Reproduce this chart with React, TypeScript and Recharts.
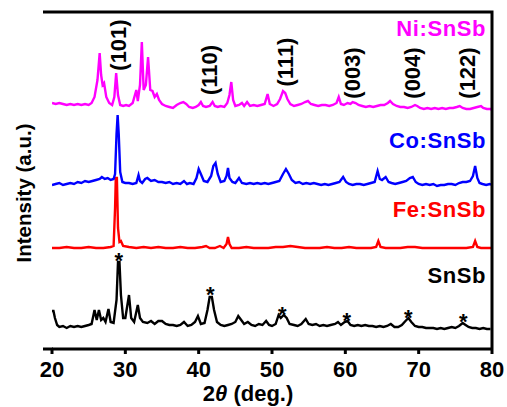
import React from 'react';
import { LineChart, Line, XAxis, YAxis, ReferenceDot } from 'recharts';

const FONT = '"Liberation Sans", Arial, sans-serif';

// 2theta ticks
const xTicks = [20, 30, 40, 50, 60, 70, 80];

// stacking offsets for each pattern (plot units)
const offsets = { SnSb: 22, Fe: 101, Co: 165, Ni: 244 };

// [2theta, intensity above own baseline]
const snsb: [number, number][] = [
  [20.0, 16], [20.2, 16], [20.4, 9], [20.7, 2], [21.0, 0], [21.5, 1], [22.0, -1], [22.5, 1], [23.0, 0],
  [23.5, 1], [24.0, 0], [24.5, 1], [25.0, 2], [25.4, 3], [25.8, 17], [26.1, 7], [26.4, 17], [26.7, 7],
  [27.0, 9], [27.3, 5], [27.7, 18], [28.0, 5], [28.4, 4], [28.8, 27], [29.0, 65], [29.2, 65], [29.4, 32],
  [29.7, 9], [30.0, 9], [30.5, 32], [30.8, 9], [31.2, 5], [31.7, 22], [32.0, 9], [32.4, 5], [33.0, 4],
  [33.5, 6], [34.0, 3], [34.5, 6], [35.0, 6], [35.5, 3], [36.0, 2], [36.5, 2], [37.0, 1], [37.5, 2],
  [38.0, 5], [38.5, 1], [39.0, 2], [39.5, 5], [39.9, 11], [40.3, 3], [40.8, 4], [41.2, 17], [41.5, 30],
  [41.8, 30], [42.1, 17], [42.5, 5], [43.0, 2], [43.5, 1], [44.0, 2], [44.5, 3], [45.0, 5], [45.4, 11],
  [45.8, 7], [46.2, 3], [46.7, 5], [47.2, 2], [47.7, 1], [48.2, 3], [48.7, 2], [49.2, 6], [49.6, 2],
  [50.0, 1], [50.5, 3], [50.9, 12], [51.2, 9], [51.6, 12], [52.0, 9], [52.4, 3], [53.0, 2], [53.5, 1],
  [54.0, 3], [54.6, 8], [55.0, 3], [55.5, 2], [56.0, 3], [56.5, 1], [57.0, 2], [57.5, 1], [58.0, 2],
  [58.6, 3], [59.0, 5], [59.4, 2], [59.9, 5], [60.3, 6], [60.7, 2], [61.2, 1], [61.7, 2], [62.2, 1],
  [62.7, 2], [63.2, 1], [63.7, 1], [64.2, 0], [64.7, 1], [65.2, 0], [65.7, 1], [66.2, 3], [66.7, 0],
  [67.2, 0], [67.7, 2], [68.2, 6], [68.6, 9], [69.0, 5], [69.5, 1], [70.0, 0], [70.5, 0], [71.0, -1],
  [71.5, -1], [72.0, -1], [72.5, -2], [73.0, -1], [73.5, -2], [74.0, -1], [74.5, 0], [75.0, -1],
  [75.5, 1], [76.0, 4], [76.4, 2], [76.8, 0], [77.3, -1], [77.8, -1], [78.3, -2], [78.8, -1], [79.3, -2],
  [79.8, -2],
];

const fe: [number, number][] = [
  [20.0, 0], [21.0, 0], [22.0, 1], [23.0, 0], [24.0, 0], [25.0, 1], [26.0, 0], [27.0, 0], [28.0, 1],
  [28.4, 2], [28.6, 40], [28.7, 70], [28.85, 70], [29.0, 20], [29.2, 6], [29.4, 7], [29.7, 2], [30.5, 1],
  [31.5, 0], [32.5, 1], [33.5, 0], [34.5, 1], [35.5, 0], [36.5, 0], [37.5, 1], [38.5, 0], [39.5, 0],
  [40.5, 1], [41.0, 2], [41.5, 0], [42.2, 0], [42.9, 2], [43.4, 0], [43.8, 4], [44.0, 11], [44.2, 4],
  [44.5, 0], [45.5, 0], [46.5, 1], [47.5, 0], [48.5, 0], [49.5, 0], [50.5, 1], [51.5, 1], [52.5, 2],
  [53.5, 1], [54.5, 0], [55.5, 0], [56.5, 0], [57.5, 1], [58.5, 0], [59.5, 0], [60.5, 1], [61.5, 0],
  [62.5, 0], [63.5, 0], [64.2, 1], [64.5, 7], [64.8, 1], [65.5, 0], [66.5, 0], [67.5, 0], [68.5, 1],
  [69.5, 1], [70.5, 0], [71.5, 0], [72.5, 0], [73.5, 0], [74.5, 0], [75.5, 0], [76.5, 0], [77.4, 1],
  [77.7, 7], [78.0, 1], [78.5, 0], [79.5, 0], [80.0, 0],
];

const co: [number, number][] = [
  [20.0, -1], [20.5, 0], [21.0, 1], [21.5, -1], [22.0, 0], [22.5, 1], [23.0, 0], [23.5, 2], [24.0, 1],
  [24.5, 3], [25.0, 2], [25.5, 3], [26.0, 4], [26.5, 5], [26.8, 7], [27.2, 5], [27.6, 6], [28.0, 4],
  [28.4, 5], [28.6, 10], [28.8, 50], [28.95, 69], [29.1, 50], [29.3, 12], [29.6, 2], [30.0, 1], [30.5, 1],
  [31.0, 0], [31.5, 1], [31.8, 9], [32.0, 3], [32.3, 1], [32.7, 5], [33.0, 6], [33.5, 3], [34.0, 4],
  [34.5, 2], [35.0, 2], [35.5, 1], [36.0, 2], [36.5, 0], [37.0, 1], [37.5, 0], [38.0, 3], [38.4, 0],
  [38.8, 1], [39.3, 0], [39.7, 6], [40.0, 15], [40.3, 10], [40.7, 3], [41.2, 2], [41.7, 8], [42.0, 18],
  [42.3, 21], [42.6, 10], [43.0, 2], [43.5, 3], [43.8, 8], [44.0, 16], [44.2, 6], [44.6, 2], [45.0, 1],
  [45.5, 6], [45.9, 1], [46.5, 0], [47.0, 1], [47.5, 0], [48.0, 1], [48.5, 0], [49.0, 1], [49.5, 0],
  [50.0, 1], [50.5, 2], [51.0, 3], [51.5, 10], [51.9, 15], [52.3, 10], [52.7, 4], [53.2, 1], [53.7, 2],
  [54.2, 0], [54.7, 1], [55.2, 0], [55.7, 1], [56.2, 0], [56.7, -1], [57.2, 0], [57.7, -1], [58.2, 0],
  [58.7, 1], [59.2, 2], [59.7, 7], [60.1, 2], [60.5, 0], [61.0, -1], [61.5, 0], [62.0, 0], [62.5, -1],
  [63.0, 0], [63.5, 1], [64.0, 2], [64.4, 13], [64.7, 5], [65.0, 4], [65.5, 7], [65.9, 2], [66.3, 1],
  [66.8, 0], [67.3, 1], [67.8, 2], [68.3, 3], [68.8, 6], [69.2, 7], [69.6, 2], [70.0, 0], [70.5, -1],
  [71.0, 0], [71.5, -1], [72.0, 0], [72.5, -2], [73.0, -1], [73.5, -1], [74.0, 0], [74.5, 0], [75.0, -1],
  [75.5, 1], [76.0, 2], [76.5, 2], [77.0, 3], [77.4, 8], [77.7, 18], [78.0, 6], [78.3, 1], [78.7, 0],
  [79.2, -1], [79.7, 0], [80.0, -1],
];

const ni: [number, number][] = [
  [20.0, 2], [20.5, 1], [21.0, 2], [21.5, 1], [22.0, 0], [22.5, 1], [23.0, 0], [23.5, 1], [24.0, 0],
  [24.5, 1], [25.0, 0], [25.4, 2], [25.8, 8], [26.2, 25], [26.5, 52], [26.7, 30], [26.9, 20], [27.1, 22],
  [27.4, 8], [27.8, 2], [28.2, 0], [28.5, 8], [28.75, 32], [29.0, 10], [29.3, 0], [29.7, -1], [30.1, 0],
  [30.5, -1], [31.0, 2], [31.5, 15], [31.7, 4], [32.0, 20], [32.25, 63], [32.5, 15], [32.8, 20],
  [33.1, 48], [33.4, 15], [33.7, 14], [34.0, 8], [34.3, 11], [34.6, 5], [35.0, 1], [35.5, -1], [36.0, -2],
  [36.5, -3], [37.0, 0], [37.5, 2], [37.9, 3], [38.3, 1], [38.7, -2], [39.2, -3], [39.6, -2], [40.0, 0],
  [40.3, 3], [40.6, -1], [41.0, -2], [41.5, -1], [41.9, 3], [42.2, -1], [42.6, -2], [43.0, -1],
  [43.5, -2], [43.9, 2], [44.2, 10], [44.45, 23], [44.7, 5], [45.0, -1], [45.5, 0], [45.9, 2], [46.2, -1],
  [46.6, 3], [47.0, -1], [47.5, 0], [48.0, -1], [48.5, 0], [49.0, 1], [49.4, 11], [49.7, 1], [50.2, -1],
  [50.7, 1], [51.1, 6], [51.5, 14], [51.8, 12], [52.1, 6], [52.5, 1], [53.0, -1], [53.5, 0], [54.0, 1],
  [54.5, 3], [54.9, 4], [55.3, 1], [55.8, 0], [56.3, -1], [56.8, 0], [57.3, 0], [57.8, -1], [58.3, 0],
  [58.8, 2], [59.1, 8], [59.4, 1], [59.8, 0], [60.3, 2], [60.7, 1], [61.0, 3], [61.4, 2], [61.8, 0],
  [62.3, -1], [62.8, -2], [63.3, -1], [63.8, -2], [64.3, -1], [64.8, 0], [65.3, 0], [65.8, 2], [66.1, 4],
  [66.5, 1], [67.0, -1], [67.5, -2], [68.0, -2], [68.5, -3], [69.0, -2], [69.5, 0], [69.8, -1],
  [70.2, -3], [70.7, -4], [71.2, -3], [71.7, -4], [72.2, -3], [72.7, -4], [73.2, -3], [73.7, -4],
  [74.2, -3], [74.7, -3], [75.2, -2], [75.6, -1], [76.0, -3], [76.5, -4], [77.0, -4], [77.5, -3],
  [78.0, -2], [78.5, -1], [78.8, -3], [79.3, -4], [79.8, -4], [80.0, -5],
];

// SnSb reflections marked with *  [2theta, height above SnSb baseline]
const stars: [number, number][] = [
  [29.1, 71], [41.6, 37], [51.4, 17], [60.2, 11], [68.6, 14], [76.1, 10],
];

// hkl labels [label, 2theta, plot height of text centre]
const hkl: [string, number, number][] = [
  ['(101)', 29.0, 304], ['(110)', 41.5, 279], ['(111)', 51.8, 287],
  ['(003)', 61.0, 276], ['(004)', 69.2, 276], ['(122)', 76.7, 276],
];

// sample names [label, colour, plot height of baseline]
const names: [string, string, number][] = [
  ['Ni:SnSb', '#ff00ff', 313], ['Co:SnSb', '#0000ff', 201], ['Fe:SnSb', '#ff0000', 132], ['SnSb', '#000000', 66],
];

const toRows = (pts: [number, number][], off: number) => pts.map(([x, y]) => ({ x, y: y + off }));

const series = [
  { key: 'SnSb', data: toRows(snsb, offsets.SnSb), color: '#000000' },
  { key: 'Fe', data: toRows(fe, offsets.Fe), color: '#ff0000' },
  { key: 'Co', data: toRows(co, offsets.Co), color: '#0000ff' },
  { key: 'Ni', data: toRows(ni, offsets.Ni), color: '#ff00ff' },
];

const App = () => {
  return (
    <div style={{ position: 'relative', width: 507, height: 407, fontFamily: FONT }}>
      <style>{'body{margin:0}'}</style>
      <LineChart width={507} height={407} margin={{ top: 12, right: 15, left: 52, bottom: 0 }}>
        <XAxis
          type="number"
          dataKey="x"
          domain={[20, 80]}
          ticks={xTicks}
          allowDataOverflow
          height={58}
          axisLine={{ stroke: '#000', strokeWidth: 3 }}
          tickLine={{ stroke: '#000', strokeWidth: 3 }}
          tickSize={5}
          tickMargin={7}
          tick={{ fill: '#000', fontSize: 22, fontWeight: 'bold', fontFamily: FONT }}
        />
        <YAxis
          type="number"
          domain={[0, 337]}
          allowDataOverflow
          width={0}
          tick={false}
          tickLine={false}
          axisLine={{ stroke: '#000', strokeWidth: 3 }}
        />
        {series.map(s => (
          <Line
            key={s.key}
            data={s.data}
            dataKey="y"
            type="linear"
            stroke={s.color}
            strokeWidth={2.4}
            dot={false}
            isAnimationActive={false}
          />
        ))}
        {stars.map(([x, h], i) => (
          <ReferenceDot key={`st-${i}`} x={x} y={h + offsets.SnSb} r={0} ifOverflow="visible"
            shape={(p: any) => (
              <text x={p.cx} y={p.cy + 12} textAnchor="middle" fontSize={22} fontWeight="bold" fontFamily={FONT} fill="#000">*</text>
            )} />
        ))}
        {hkl.map(([lab, x, h]) => (
          <ReferenceDot key={lab} x={x} y={h} r={0} ifOverflow="visible"
            shape={(p: any) => (
              <text x={p.cx} y={p.cy} transform={`rotate(-90 ${p.cx} ${p.cy})`} textAnchor="middle"
                dominantBaseline="central" fontSize={22} fontWeight="bold" fontFamily={FONT} fill="#000">{lab}</text>
            )} />
        ))}
        {names.map(([lab, col, h]) => (
          <ReferenceDot key={lab} x={79.2} y={h} r={0} ifOverflow="visible"
            shape={(p: any) => (
              <text x={p.cx} y={p.cy} textAnchor="end" fontSize={22} fontWeight="bold" fontFamily={FONT}
                letterSpacing={0.6} fill={col}>{lab}</text>
            )} />
        ))}
      </LineChart>
      <svg width={507} height={407} style={{ position: 'absolute', left: 0, top: 0, pointerEvents: 'none' }}>
        {/* frame: top and right border, small overhang of the bottom axis */}
        <polyline points="43,12 492,12 492,349" fill="none" stroke="#000" strokeWidth={3} />
        <line x1={43} y1={349} x2={53} y2={349} stroke="#000" strokeWidth={3} />
        <text x={23} y={193} transform="rotate(-90 23 193)" textAnchor="middle" dominantBaseline="central"
          fontSize={20.5} fontWeight="bold" fontFamily={FONT} fill="#000">Intensity (a.u.)</text>
        <text x={248} y={401} textAnchor="middle" fontSize={22} fontWeight="bold" fontFamily={FONT} fill="#000">
          2<tspan fontStyle="italic">θ</tspan> (deg.)
        </text>
      </svg>
    </div>
  );
};

export default App;
